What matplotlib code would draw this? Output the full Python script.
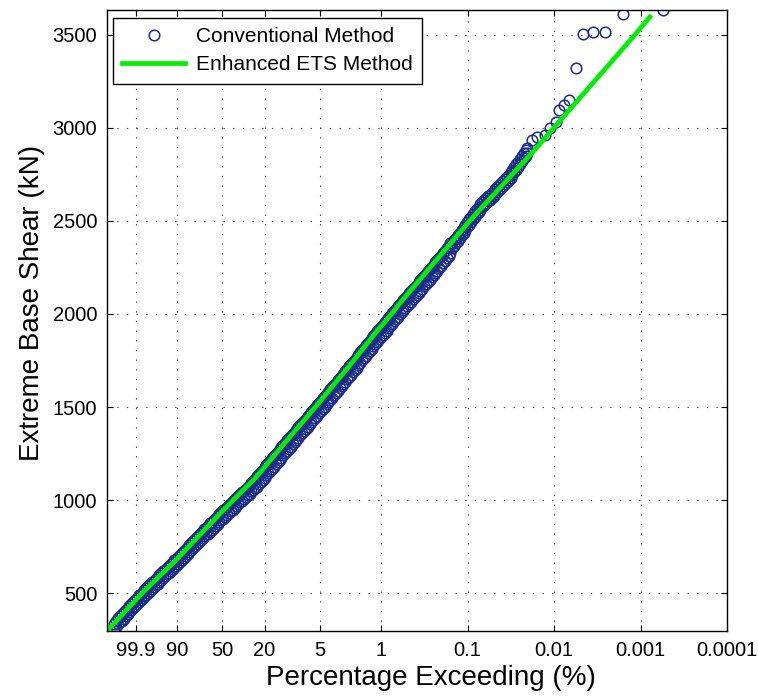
import numpy as np
import matplotlib.pyplot as plt

plt.rcParams['font.family'] = ['Liberation Sans', 'DejaVu Sans']

# probability axis (percentage exceeding) and y ticks
pct_ticks = [99.9, 90, 50, 20, 5, 1, 0.1, 0.01, 0.001, 0.0001]
pct_labels = ['99.9', '90', '50', '20', '5', '1', '0.1', '0.01', '0.001', '0.0001']
shear_ticks = [500, 1000, 1500, 2000, 2500, 3000, 3500]

# conventional method, dense part of the sample:
# Gumbel reduced variate, upper and lower edge of the band of points (kN)
band_x = np.array([
    -2.50, -2.45, -2.40, -2.35, -2.30, -2.25, -2.20, -2.15, -2.10, -2.05,
    -2.00, -1.95, -1.90, -1.85, -1.80, -1.75, -1.70, -1.65, -1.60, -1.55,
    -1.50, -1.45, -1.40, -1.35, -1.30, -1.25, -1.20, -1.15, -1.10, -1.05,
    -1.00, -0.95, -0.90, -0.85, -0.80, -0.75, -0.70, -0.65, -0.60, -0.55,
    -0.50, -0.45, -0.40, -0.35, -0.30, -0.25, -0.20, -0.15, -0.10, -0.05,
    0.00, 0.05, 0.10, 0.15, 0.20, 0.25, 0.30, 0.35, 0.40, 0.45,
    0.50, 0.55, 0.60, 0.65, 0.70, 0.75, 0.80, 0.85, 0.90, 0.95,
    1.00, 1.05, 1.10, 1.15, 1.20, 1.25, 1.30, 1.35, 1.40, 1.45,
    1.50, 1.55, 1.60, 1.65, 1.70, 1.75, 1.80, 1.85, 1.90, 1.95,
    2.00, 2.05, 2.10, 2.15, 2.20, 2.25, 2.30, 2.35, 2.40, 2.45,
    2.50, 2.55, 2.60, 2.65, 2.70, 2.75, 2.80, 2.85, 2.90, 2.95,
    3.00, 3.05, 3.10, 3.15, 3.20, 3.25, 3.30, 3.35, 3.40, 3.45,
    3.50, 3.55, 3.60, 3.65, 3.70, 3.75, 3.80, 3.85, 3.90, 3.95,
    4.00, 4.05, 4.10, 4.15, 4.20, 4.25, 4.30, 4.35, 4.40, 4.45,
    4.50, 4.55, 4.60, 4.65, 4.70, 4.75, 4.80, 4.85, 4.90, 4.95,
    5.00, 5.05, 5.10, 5.15, 5.20, 5.25, 5.30, 5.35, 5.40, 5.45,
    5.50, 5.55, 5.60, 5.65, 5.70, 5.75, 5.80, 5.85, 5.90, 5.95,
    6.00, 6.05, 6.10, 6.15, 6.20, 6.25, 6.30, 6.35, 6.40, 6.45,
    6.50, 6.55, 6.60, 6.65, 6.70, 6.75, 6.80, 6.85, 6.90, 6.95,
    7.00, 7.05, 7.10, 7.15, 7.20, 7.25, 7.30, 7.35, 7.40, 7.45,
    7.50, 7.55, 7.60, 7.65, 7.70, 7.75, 7.80, 7.85, 7.90, 7.95,
    8.00, 8.05, 8.10, 8.15, 8.20, 8.25, 8.30, 8.35, 8.40, 8.45,
    8.50])
band_hi = np.array([
    336, 352, 367, 378, 388, 399, 410, 421, 432, 443,
    454, 465, 476, 487, 497, 508, 518, 528, 538, 548,
    557, 567, 577, 587, 597, 607, 616, 626, 636, 646,
    655, 665, 675, 684, 693, 704, 714, 725, 736, 747,
    757, 768, 778, 789, 800, 811, 821, 832, 843, 851,
    863, 874, 884, 895, 905, 916, 926, 935, 944, 954,
    963, 973, 983, 993, 1003, 1013, 1022, 1032, 1041, 1051,
    1060, 1070, 1079, 1090, 1100, 1111, 1128, 1140, 1152, 1164,
    1176, 1188, 1200, 1212, 1224, 1236, 1248, 1260, 1272, 1284,
    1296, 1308, 1320, 1332, 1343, 1355, 1367, 1379, 1391, 1403,
    1414, 1426, 1438, 1450, 1462, 1474, 1485, 1497, 1509, 1522,
    1534, 1546, 1558, 1571, 1583, 1595, 1607, 1619, 1631, 1644,
    1656, 1668, 1680, 1693, 1705, 1718, 1730, 1743, 1755, 1768,
    1781, 1794, 1806, 1819, 1832, 1845, 1857, 1870, 1882, 1895,
    1907, 1919, 1931, 1943, 1955, 1967, 1979, 1991, 2003, 2016,
    2029, 2042, 2054, 2065, 2076, 2088, 2099, 2111, 2122, 2134,
    2146, 2158, 2170, 2182, 2193, 2205, 2217, 2229, 2241, 2253,
    2265, 2277, 2289, 2302, 2314, 2328, 2341, 2355, 2368, 2382,
    2382, 2396, 2409, 2423, 2437, 2452, 2466, 2481, 2495, 2509,
    2523, 2537, 2551, 2564, 2577, 2589, 2601, 2612, 2623, 2633,
    2642, 2652, 2662, 2673, 2683, 2695, 2706, 2717, 2728, 2738,
    2748, 2761, 2774, 2789, 2804, 2819, 2834, 2849, 2864, 2879,
    2894])
band_lo = np.array([
    300, 316, 331, 342, 352, 363, 374, 385, 396, 407,
    418, 429, 440, 451, 461, 472, 482, 492, 502, 512,
    521, 531, 541, 551, 561, 571, 580, 590, 600, 610,
    619, 629, 639, 648, 657, 668, 678, 689, 700, 711,
    721, 732, 742, 753, 764, 775, 785, 796, 807, 815,
    819, 830, 840, 851, 861, 872, 882, 891, 900, 910,
    919, 929, 939, 949, 959, 969, 978, 988, 997, 1007,
    1016, 1026, 1035, 1046, 1056, 1067, 1072, 1084, 1096, 1108,
    1120, 1132, 1144, 1156, 1168, 1180, 1192, 1204, 1216, 1228,
    1240, 1252, 1264, 1276, 1287, 1299, 1311, 1323, 1335, 1347,
    1358, 1370, 1382, 1394, 1406, 1418, 1429, 1441, 1453, 1466,
    1478, 1490, 1502, 1515, 1527, 1539, 1551, 1563, 1575, 1588,
    1600, 1612, 1624, 1637, 1649, 1662, 1674, 1687, 1699, 1712,
    1725, 1738, 1750, 1763, 1776, 1789, 1801, 1814, 1826, 1839,
    1851, 1863, 1875, 1887, 1899, 1911, 1923, 1935, 1947, 1960,
    1973, 1986, 1998, 2009, 2020, 2032, 2043, 2055, 2066, 2078,
    2090, 2102, 2114, 2126, 2137, 2149, 2161, 2173, 2185, 2197,
    2209, 2221, 2233, 2246, 2258, 2272, 2285, 2299, 2312, 2326,
    2354, 2368, 2381, 2395, 2409, 2424, 2438, 2453, 2467, 2481,
    2495, 2509, 2523, 2536, 2549, 2561, 2573, 2584, 2595, 2605,
    2614, 2624, 2634, 2645, 2655, 2667, 2678, 2689, 2700, 2710,
    2720, 2733, 2746, 2761, 2776, 2791, 2806, 2821, 2836, 2851,
    2866])

# conventional method, largest values (sparse tail)
tail_x = [8.61, 8.75, 8.96, 9.09, 9.25, 9.33, 9.47, 9.60, 9.79,
          9.97, 10.24, 10.56, 11.04, 12.11]
tail_y = [2936, 2952, 2962, 3000, 3032, 3097, 3124, 3151, 3323,
          3505, 3516, 3516, 3613, 3634]

# enhanced ETS method
ets_x = [-2.696, -1.762, -0.855, -0.028, 0.665, 1.252, 2.106, 2.853, 3.733,
         4.453, 4.880, 5.173, 6.960, 8.694, 9.201, 11.361, 11.762]
ets_y = [296, 500, 678, 855, 1000, 1118, 1323, 1500, 1715,
         1898, 2000, 2075, 2500, 2882, 3000, 3500, 3597]


def gumbel(p):
    # percentage exceeding -> Gumbel reduced variate
    p = np.asarray(p, dtype=float) / 100.0
    return -np.log(-np.log1p(-p))


conv_x = np.concatenate([band_x, band_x, tail_x])
conv_y = np.concatenate([band_hi, band_lo, tail_y])

fig = plt.figure(figsize=(7.58, 6.98), dpi=100)
ax = fig.add_axes([107 / 758, 1 - 631 / 698, 620 / 758, 621 / 698])

ax.plot(conv_x, conv_y, 'o', ms=7.6, mfc='none', mec='#1b2c8c', mew=1.1,
        label='Conventional Method')
ax.plot(ets_x, ets_y, '-', color='#00f000', lw=3.4, label='Enhanced ETS Method')

ax.set_xlim(ets_x[0], gumbel(pct_ticks[-1]))
ax.set_ylim(min(ets_y), conv_y.max())
ax.set_xticks(gumbel(pct_ticks))
ax.set_xticklabels(pct_labels)
ax.set_yticks(shear_ticks)

ax.grid(True, color='#444444', lw=0.8, linestyle=(0, (1.2, 7.5)))
ax.tick_params(direction='in', length=4, width=0.8, top=True, right=True,
               labelsize=14.5, pad=7)
for s in ax.spines.values():
    s.set_linewidth(1.0)

ax.set_xlabel('Percentage Exceeding (%)', fontsize=20)
ax.set_ylabel('Extreme Base Shear (kN)', fontsize=20)
ax.xaxis.set_label_coords(0.523, -0.055)
ax.yaxis.set_label_coords(-0.10, 0.529)

leg = ax.legend(loc='upper left', bbox_to_anchor=(0.0097, 0.9871), borderaxespad=0,
                fontsize=15, numpoints=1, handlelength=3.0, handletextpad=0.55,
                borderpad=0.45, labelspacing=0.43, fancybox=False, framealpha=1)
leg.get_frame().set_edgecolor('black')
leg.get_frame().set_linewidth(1.0)

fig.savefig('out.png', dpi=100)
